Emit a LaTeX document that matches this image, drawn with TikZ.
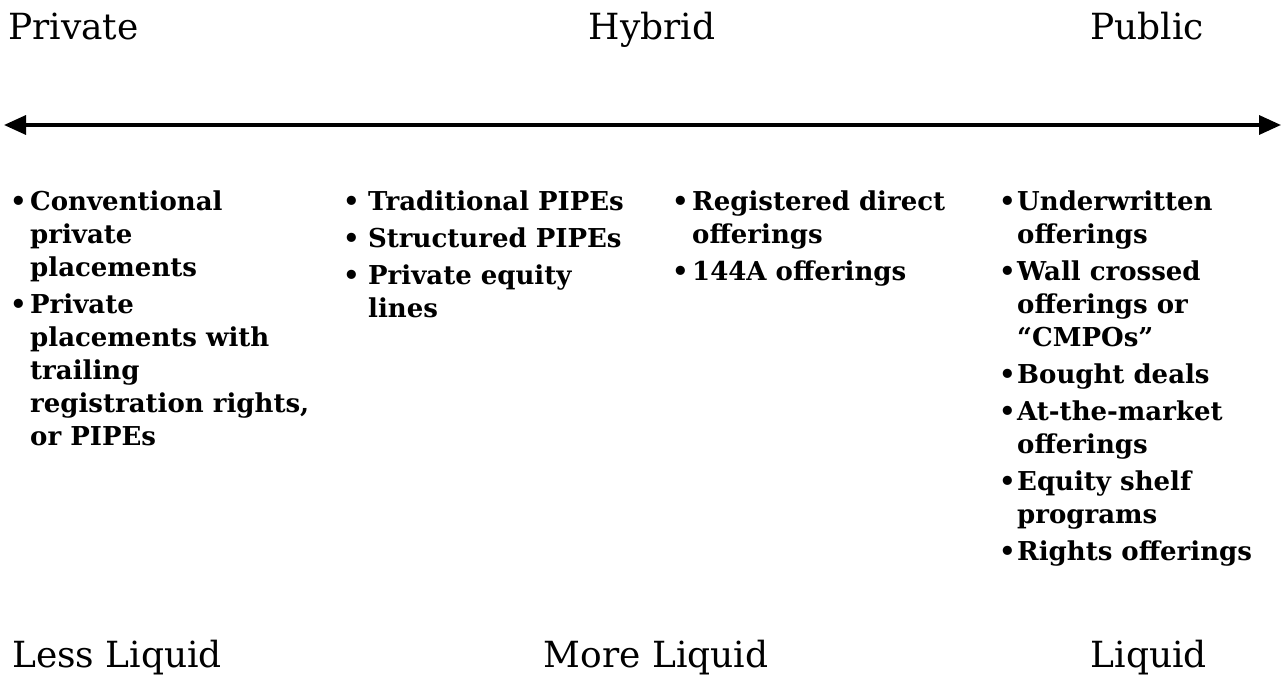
\documentclass[tikz,border=0pt]{standalone}
\usepackage{fontspec}
\setmainfont{DejaVu Serif}
\usetikzlibrary{arrows.meta}
\tikzset{
  head/.style={anchor=base west,inner sep=0pt,font=\fontsize{36}{42}\selectfont},
  col/.style={anchor=north west,inner sep=0pt,align=left,font=\fontsize{26}{33}\selectfont\bfseries},
  axis/.style={line width=3.4pt,{Triangle[length=22pt,width=19pt]}-{Triangle[length=22pt,width=19pt]}}
}
\newcommand\bul[1]{\makebox[#1][l]{\textbullet}}
\begin{document}
\begin{tikzpicture}[x=1pt,y=-1pt]
\useasboundingbox[fill=white] (0,0) rectangle (1281,674);
\node[head] (priv) at (8,40) {Private};
\node[head,anchor=base] (hyb) at (652,40) {Hybrid};
\node[head,anchor=base east] (pub) at (1204,40) {Public};
\coordinate (L) at (4,125);
\coordinate (R) at (1281,125);
\draw[axis] (L) -- (R);
\node[col] (c1) at (10,187) {%
\begin{tabular}{@{}l@{}l@{}}
\bul{20pt} & Conventional\\ & private\\ & placements\\[4pt]
\bul{20pt} & Private\\ & placements with\\ & trailing\\ & registration rights,\\ & or PIPEs
\end{tabular}};
\node[col] (c2) at (343,187) {%
\begin{tabular}{@{}l@{}l@{}}
\bul{25pt} & Traditional PIPEs\\[4pt]
\bul{25pt} & Structured PIPEs\\[4pt]
\bul{25pt} & Private equity\\ & lines
\end{tabular}};
\node[col] (c3) at (672,187) {%
\begin{tabular}{@{}l@{}l@{}}
\bul{20pt} & Registered direct\\ & offerings\\[4pt]
\bul{20pt} & 144A offerings
\end{tabular}};
\node[col] (c4) at (999,187) {%
\begin{tabular}{@{}l@{}l@{}}
\bul{18pt} & Underwritten\\ & offerings\\[4pt]
\bul{18pt} & Wall crossed\\ & offerings or\\ & ``CMPOs''\\[4pt]
\bul{18pt} & Bought deals\\[4pt]
\bul{18pt} & At-the-market\\ & offerings\\[4pt]
\bul{18pt} & Equity shelf\\ & programs\\[4pt]
\bul{18pt} & Rights offerings
\end{tabular}};
\node[head] (ll) at (12,667) {Less Liquid};
\node[head,anchor=base] (ml) at (656,667) {More Liquid};
\node[head,anchor=base east] (lq) at (1207,667) {Liquid};
\end{tikzpicture}
\end{document}
